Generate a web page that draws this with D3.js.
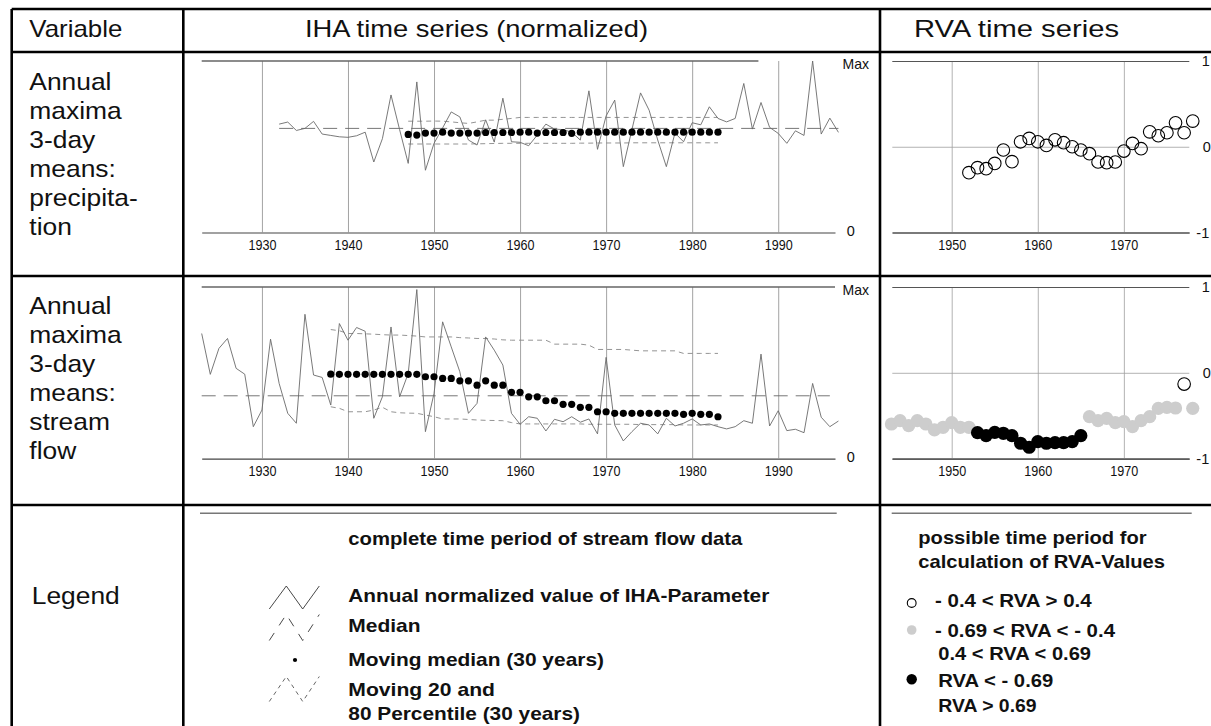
<!DOCTYPE html>
<html>
<head>
<meta charset="utf-8">
<script src="https://cdn.jsdelivr.net/npm/d3@7"></script>
<style>
  body { margin: 0; background: #fff; }
  svg { display: block; font-family: "Liberation Sans", Arial, Helvetica, sans-serif; }
</style>
</head>
<body>
<svg id="chart" width="1211" height="726"></svg>
<script>
// ---- data ----
var ihaTicks = [1930, 1940, 1950, 1960, 1970, 1980, 1990];
var rvaTicks = [1950, 1960, 1970];
var rvaLevels = [-1, 0, 1];

// precipitation, annual normalized values from 1932
var precipStart = 1932;
var precipAnnual = [0.632,0.644,0.595,0.607,0.648,0.574,0.566,0.558,0.555,0.564,
  0.585,0.411,0.547,0.802,0.600,0.403,0.878,0.363,0.520,0.610,
  0.703,0.674,0.539,0.510,0.657,0.527,0.783,0.529,0.526,0.506,
  0.568,0.632,0.603,0.600,0.585,0.539,0.826,0.485,0.680,0.772,
  0.384,0.600,0.814,0.713,0.539,0.384,0.580,0.529,0.640,0.628,
  0.733,0.665,0.645,0.665,0.869,0.603,0.758,0.613,0.578,0.520,
  0.593,0.566,1.000,0.574,0.667,0.584];
var precipMedian = 0.607;
var precipMedianSpan = [1932, 1997];
var precipMovStart = 1947;
var precipMovMedian = [0.572,0.568,0.580,0.580,0.585,0.580,0.580,0.580,0.580,0.583,
  0.583,0.583,0.583,0.585,0.585,0.580,0.583,0.583,0.583,0.578,
  0.585,0.585,0.585,0.585,0.585,0.585,0.585,0.585,0.585,0.585,
  0.585,0.585,0.585,0.585,0.585,0.585,0.585];
var precipP80 = [0.649,0.649,0.649,0.650,0.649,0.645,0.640,0.636,0.645,0.655,
  0.655,0.660,0.665,0.671,0.671,0.671,0.671,0.671,0.671,0.671,
  0.671,0.671,0.671,0.671,0.671,0.671,0.671,0.671,0.671,0.671,
  0.671,0.671,0.671,0.671,0.671,0.671,0.671];
var precipP20 = [0.516,0.516,0.516,0.516,0.516,0.516,0.516,0.516,0.517,0.518,
  0.519,0.520,0.520,0.520,0.520,0.520,0.520,0.520,0.520,0.520,
  0.521,0.521,0.522,0.522,0.522,0.522,0.523,0.523,0.523,0.523,
  0.523,0.523,0.523,0.523,0.523,0.523,0.523];

// stream flow, annual normalized values from 1923
var flowStart = 1923;
var flowAnnual = [0.729,0.491,0.642,0.700,0.526,0.492,0.186,0.283,0.696,0.438,
  0.264,0.206,0.841,0.487,0.473,0.312,0.787,0.690,0.764,0.742,
  0.235,0.360,0.767,0.360,0.496,0.985,0.157,0.380,0.797,0.651,
  0.506,0.264,0.322,0.709,0.632,0.545,0.264,0.200,0.244,0.235,
  0.161,0.229,0.215,0.244,0.212,0.231,0.144,0.590,0.196,0.103,
  0.157,0.206,0.196,0.144,0.235,0.190,0.206,0.231,0.196,0.202,
  0.186,0.173,0.186,0.221,0.206,0.609,0.190,0.279,0.163,0.171,
  0.151,0.438,0.241,0.186,0.219];
var flowMedian = 0.366;
var flowMedianSpan = [1923, 1996];
var flowMovStart = 1938;
var flowMovMedian = [0.492,0.491,0.491,0.491,0.491,0.491,0.491,0.491,0.491,0.491,
  0.491,0.477,0.477,0.467,0.467,0.453,0.453,0.428,0.453,0.428,
  0.428,0.386,0.386,0.360,0.360,0.337,0.337,0.316,0.316,0.299,
  0.299,0.273,0.273,0.264,0.264,0.264,0.264,0.264,0.264,0.264,
  0.264,0.258,0.264,0.258,0.258,0.244];
var flowP80 = [0.752,0.745,0.729,0.729,0.727,0.725,0.722,0.720,0.720,0.717,
  0.714,0.709,0.709,0.709,0.709,0.705,0.703,0.700,0.700,0.697,
  0.692,0.690,0.690,0.690,0.690,0.690,0.667,0.667,0.667,0.667,
  0.661,0.636,0.636,0.636,0.636,0.632,0.628,0.628,0.628,0.628,
  0.628,0.613,0.613,0.613,0.613,0.613];
var flowP20 = [0.302,0.293,0.273,0.273,0.273,0.283,0.299,0.273,0.267,0.265,
  0.264,0.254,0.244,0.231,0.231,0.231,0.228,0.225,0.223,0.222,
  0.221,0.210,0.202,0.202,0.202,0.202,0.202,0.202,0.202,0.202,
  0.200,0.200,0.200,0.200,0.200,0.200,0.198,0.198,0.198,0.198,
  0.198,0.196,0.196,0.196,0.196,0.196];

// RVA values
var rvaPrecipStart = 1952;
var rvaPrecip = [-0.302,-0.244,-0.256,-0.194,-0.038,-0.174,0.058,0.097,0.058,0.016,
  0.081,0.047,0.000,-0.038,-0.081,-0.178,-0.186,-0.178,-0.050,0.039,
  -0.023,0.174,0.128,0.163,0.279,0.163,0.299];
var rvaFlowStart = 1943;
var rvaFlow = [-0.597,-0.558,-0.616,-0.558,-0.597,-0.666,-0.635,-0.581,-0.635,-0.635,
  -0.698,-0.733,-0.695,-0.705,-0.733,-0.821,-0.868,-0.802,-0.821,-0.814,
  -0.814,-0.802,-0.733,-0.511,-0.558,-0.531,-0.581,-0.570,-0.628,-0.558,
  -0.511,-0.414,-0.403,-0.410,-0.131,-0.414];

var rowLabelsPrecip = ["Annual", "maxima", "3-day", "means:", "precipita-", "tion"];
var rowLabelsFlow = ["Annual", "maxima", "3-day", "means:", "stream", "flow"];

// ---- drawing ----
var svg = d3.select("#chart");
var ink = "#111";
var fam = '"Liberation Sans", Arial, sans-serif';

function addText(g, x, y, str, o) {
  o = o || {};
  var t = g.append("text")
    .attr("font-size", o.size || 24)
    .attr("font-weight", o.bold ? "bold" : null)
    .attr("text-anchor", o.anchor || "start")
    .attr("fill", ink)
    .text(str);
  if (o.sx) {
    t.attr("transform", "translate(" + x + "," + y + ") scale(" + o.sx + ",1)");
  } else {
    t.attr("x", x).attr("y", y);
  }
  if (o.len) t.attr("textLength", o.len).attr("lengthAdjust", "spacingAndGlyphs");
  return t;
}

// table frame
var frame = svg.append("g").attr("stroke", "#000").attr("stroke-width", 2.6);
[9, 52, 276, 505].forEach(function(y) {
  frame.append("line").attr("x1", 11.7).attr("x2", 1211).attr("y1", y).attr("y2", y);
});
[11.7, 183.3, 880].forEach(function(x) {
  frame.append("line").attr("x1", x).attr("x2", x).attr("y1", 9).attr("y2", 726);
});

// header
addText(svg, 29.3, 37, "Variable", {len: 93});
addText(svg, 305, 37, "IHA time series (normalized)", {len: 343});
addText(svg, 914, 37, "RVA time series", {len: 205});

// row labels
function rowLabels(lines, y0) {
  lines.forEach(function(s, i) {
    addText(svg, 29.3, y0 + i * 29, s, {sx: 1.1});
  });
}
rowLabels(rowLabelsPrecip, 90);
rowLabels(rowLabelsFlow, 314);

var panels = [
  {top: 61, bottom: 232.5, topEnd: 1987.7},
  {top: 287, bottom: 458.6, topEnd: 1996.6}
];

function styleAxisText(sel, len) {
  sel.attr("font-size", 15).attr("fill", ink)
    .attr("font-family", fam)
    .attr("textLength", len).attr("lengthAdjust", "spacingAndGlyphs");
}

function drawIHA(p, s) {
  var x = d3.scaleLinear().domain([1923, 1996.6]).range([201.7, 835]);
  var y = d3.scaleLinear().domain([0, 1]).range([p.bottom, p.top]);
  var g = svg.append("g");

  var ax = g.append("g")
    .attr("transform", "translate(0," + p.bottom + ")")
    .call(d3.axisBottom(x).tickValues(ihaTicks)
      .tickSize(-(p.bottom - p.top)).tickSizeOuter(0)
      .tickPadding(7).tickFormat(String));
  ax.attr("font-size", 15);
  ax.select(".domain").attr("stroke", "#444").attr("stroke-width", 1.1);
  ax.selectAll(".tick line").attr("stroke", "#8c8c8c").attr("stroke-width", 0.8);
  styleAxisText(ax.selectAll(".tick text"), 28);

  // upper reference line (Max)
  g.append("line")
    .attr("x1", x(1923)).attr("x2", x(p.topEnd))
    .attr("y1", y(1)).attr("y2", y(1))
    .attr("stroke", "#666").attr("stroke-width", 1.3);

  addText(g, 842.5, y(1) + 7.5, "Max", {size: 14.5, len: 26.5});
  addText(g, 846.7, y(0) + 3, "0", {size: 14.5});

  // median
  g.append("line")
    .attr("x1", x(s.medianSpan[0])).attr("x2", x(s.medianSpan[1]))
    .attr("y1", y(s.median)).attr("y2", y(s.median))
    .attr("stroke", "#666").attr("stroke-width", 0.9)
    .attr("stroke-dasharray", "14,8");

  var line = function(start) {
    return d3.line().x(function(d, i) { return x(start + i); }).y(function(d) { return y(d); });
  };

  // moving percentiles
  [s.p80, s.p20].forEach(function(arr) {
    g.append("path").datum(arr)
      .attr("d", line(s.movStart))
      .attr("fill", "none").attr("stroke", "#888").attr("stroke-width", 0.9)
      .attr("stroke-dasharray", "5,4");
  });

  // annual series
  g.append("path").datum(s.annual)
    .attr("d", line(s.start))
    .attr("fill", "none").attr("stroke", "#6a6a6a").attr("stroke-width", 0.9);

  // moving median
  g.selectAll("circle.mm").data(s.movMedian).enter().append("circle")
    .attr("class", "mm")
    .attr("cx", function(d, i) { return x(s.movStart + i); })
    .attr("cy", function(d) { return y(d); })
    .attr("r", 3.6)
    .attr("fill", "#000");
}

var rvaClass = d3.scaleThreshold().domain([0.4, 0.69]).range(["low", "mid", "high"]);

function drawRVA(p, start, values) {
  var x = d3.scaleLinear().domain([1943.1, 1977.6]).range([892.3, 1189.3]);
  var y = d3.scaleLinear().domain([-1, 1]).range([p.bottom, p.top]);
  var g = svg.append("g");

  var ax = g.append("g")
    .attr("transform", "translate(0," + p.bottom + ")")
    .call(d3.axisBottom(x).tickValues(rvaTicks)
      .tickSize(-(p.bottom - p.top)).tickSizeOuter(0)
      .tickPadding(7).tickFormat(String));
  ax.attr("font-size", 15);
  ax.select(".domain").attr("stroke", "#444").attr("stroke-width", 1.1);
  ax.selectAll(".tick line").attr("stroke", "#a0a0a0").attr("stroke-width", 0.8);
  styleAxisText(ax.selectAll(".tick text"), 28);

  var ay = g.append("g")
    .attr("transform", "translate(1189.3,0)")
    .call(d3.axisRight(y).tickValues(rvaLevels)
      .tickSize(-(1189.3 - 892.3)).tickPadding(10).tickFormat(String));
  ay.select(".domain").remove();
  ay.selectAll(".tick line")
    .attr("stroke", function(d) { return d === 0 ? "#a0a0a0" : "#555"; })
    .attr("stroke-width", function(d) { return d === 0 ? 0.8 : 1.1; });
  ay.selectAll(".tick text")
    .attr("font-size", 14.5).attr("fill", ink)
    .attr("font-family", fam)
    .attr("x", function(d) { return d < 0 ? 7 : (d === 0 ? 13.5 : 12.4); });

  g.selectAll("circle.rva").data(values).enter().append("circle")
    .attr("class", "rva")
    .attr("cx", function(d, i) { return x(start + i); })
    .attr("cy", function(d) { return y(d); })
    .attr("r", function(d) { return rvaClass(Math.abs(d)) === "low" ? 6.3 : 6.6; })
    .attr("fill", function(d) {
      var c = rvaClass(Math.abs(d));
      return c === "low" ? "none" : (c === "mid" ? "#cdcdcd" : "#000");
    })
    .attr("stroke", function(d) { return rvaClass(Math.abs(d)) === "low" ? "#000" : "none"; })
    .attr("stroke-width", 1.1);
}

drawIHA(panels[0], {
  start: precipStart, annual: precipAnnual, median: precipMedian, medianSpan: precipMedianSpan,
  movStart: precipMovStart, movMedian: precipMovMedian, p80: precipP80, p20: precipP20
});
drawIHA(panels[1], {
  start: flowStart, annual: flowAnnual, median: flowMedian, medianSpan: flowMedianSpan,
  movStart: flowMovStart, movMedian: flowMovMedian, p80: flowP80, p20: flowP20
});
drawRVA(panels[0], rvaPrecipStart, rvaPrecip);
drawRVA(panels[1], rvaFlowStart, rvaFlow);

// ---- legend row ----
var lg = svg.append("g");
addText(lg, 31.7, 604, "Legend", {sx: 1.1});

lg.append("line").attr("x1", 200).attr("x2", 836.7).attr("y1", 513.3).attr("y2", 513.3)
  .attr("stroke", "#777").attr("stroke-width", 1.5);
lg.append("line").attr("x1", 891.7).attr("x2", 1191.7).attr("y1", 513.3).attr("y2", 513.3)
  .attr("stroke", "#777").attr("stroke-width", 1.5);

var lsz = 19;
addText(lg, 348.3, 545, "complete time period of stream flow data", {size: lsz, bold: true, len: 394});
addText(lg, 348.3, 602, "Annual normalized value of IHA-Parameter", {size: lsz, bold: true, len: 421});
addText(lg, 348.3, 632, "Median", {size: lsz, bold: true, len: 72.3});
addText(lg, 348.3, 666, "Moving median (30 years)", {size: lsz, bold: true, len: 255.7});
addText(lg, 348.3, 696, "Moving 20 and", {size: lsz, bold: true, len: 146.7});
addText(lg, 348.3, 720, "80 Percentile (30 years)", {size: lsz, bold: true, len: 231.7});

// legend glyphs (zigzag icons)
var zig = d3.line();
function zigzag(cy, h) {
  return zig([[269.3, cy + h / 2], [286.3, cy - h / 2], [302.7, cy + h / 2], [319.3, cy - h / 2]]);
}
lg.append("path").attr("d", zigzag(597.5, 23)).attr("fill", "none")
  .attr("stroke", "#333").attr("stroke-width", 0.9);
lg.append("path").attr("d", zigzag(627.5, 26)).attr("fill", "none")
  .attr("stroke", "#333").attr("stroke-width", 0.9).attr("stroke-dasharray", "9,9");
lg.append("circle").attr("cx", 295).attr("cy", 660).attr("r", 2.1).attr("fill", "#000");
lg.append("path").attr("d", zigzag(689, 25)).attr("fill", "none")
  .attr("stroke", "#555").attr("stroke-width", 0.9).attr("stroke-dasharray", "4,4");

// RVA legend
addText(lg, 918.3, 543.5, "possible time period for", {size: lsz, bold: true, len: 228.3});
addText(lg, 918.3, 567.5, "calculation of RVA-Values", {size: lsz, bold: true, len: 246.7});
lg.append("circle").attr("cx", 911.7).attr("cy", 603).attr("r", 4.4)
  .attr("fill", "none").attr("stroke", "#000").attr("stroke-width", 1.1);
addText(lg, 935, 606.7, "- 0.4 < RVA > 0.4", {size: lsz, bold: true, len: 156.7});
lg.append("circle").attr("cx", 911.7).attr("cy", 630).attr("r", 4.8).attr("fill", "#cdcdcd");
addText(lg, 935, 636.7, "- 0.69 < RVA < - 0.4", {size: lsz, bold: true, len: 180});
addText(lg, 938.3, 660, "0.4 < RVA < 0.69", {size: lsz, bold: true, len: 152.7});
lg.append("circle").attr("cx", 911.7).attr("cy", 679.3).attr("r", 5.2).attr("fill", "#000");
addText(lg, 938.3, 687.3, "RVA < - 0.69", {size: lsz, bold: true, len: 115});
addText(lg, 938.3, 711.7, "RVA > 0.69", {size: lsz, bold: true, len: 98.3});
</script>
</body>
</html>
